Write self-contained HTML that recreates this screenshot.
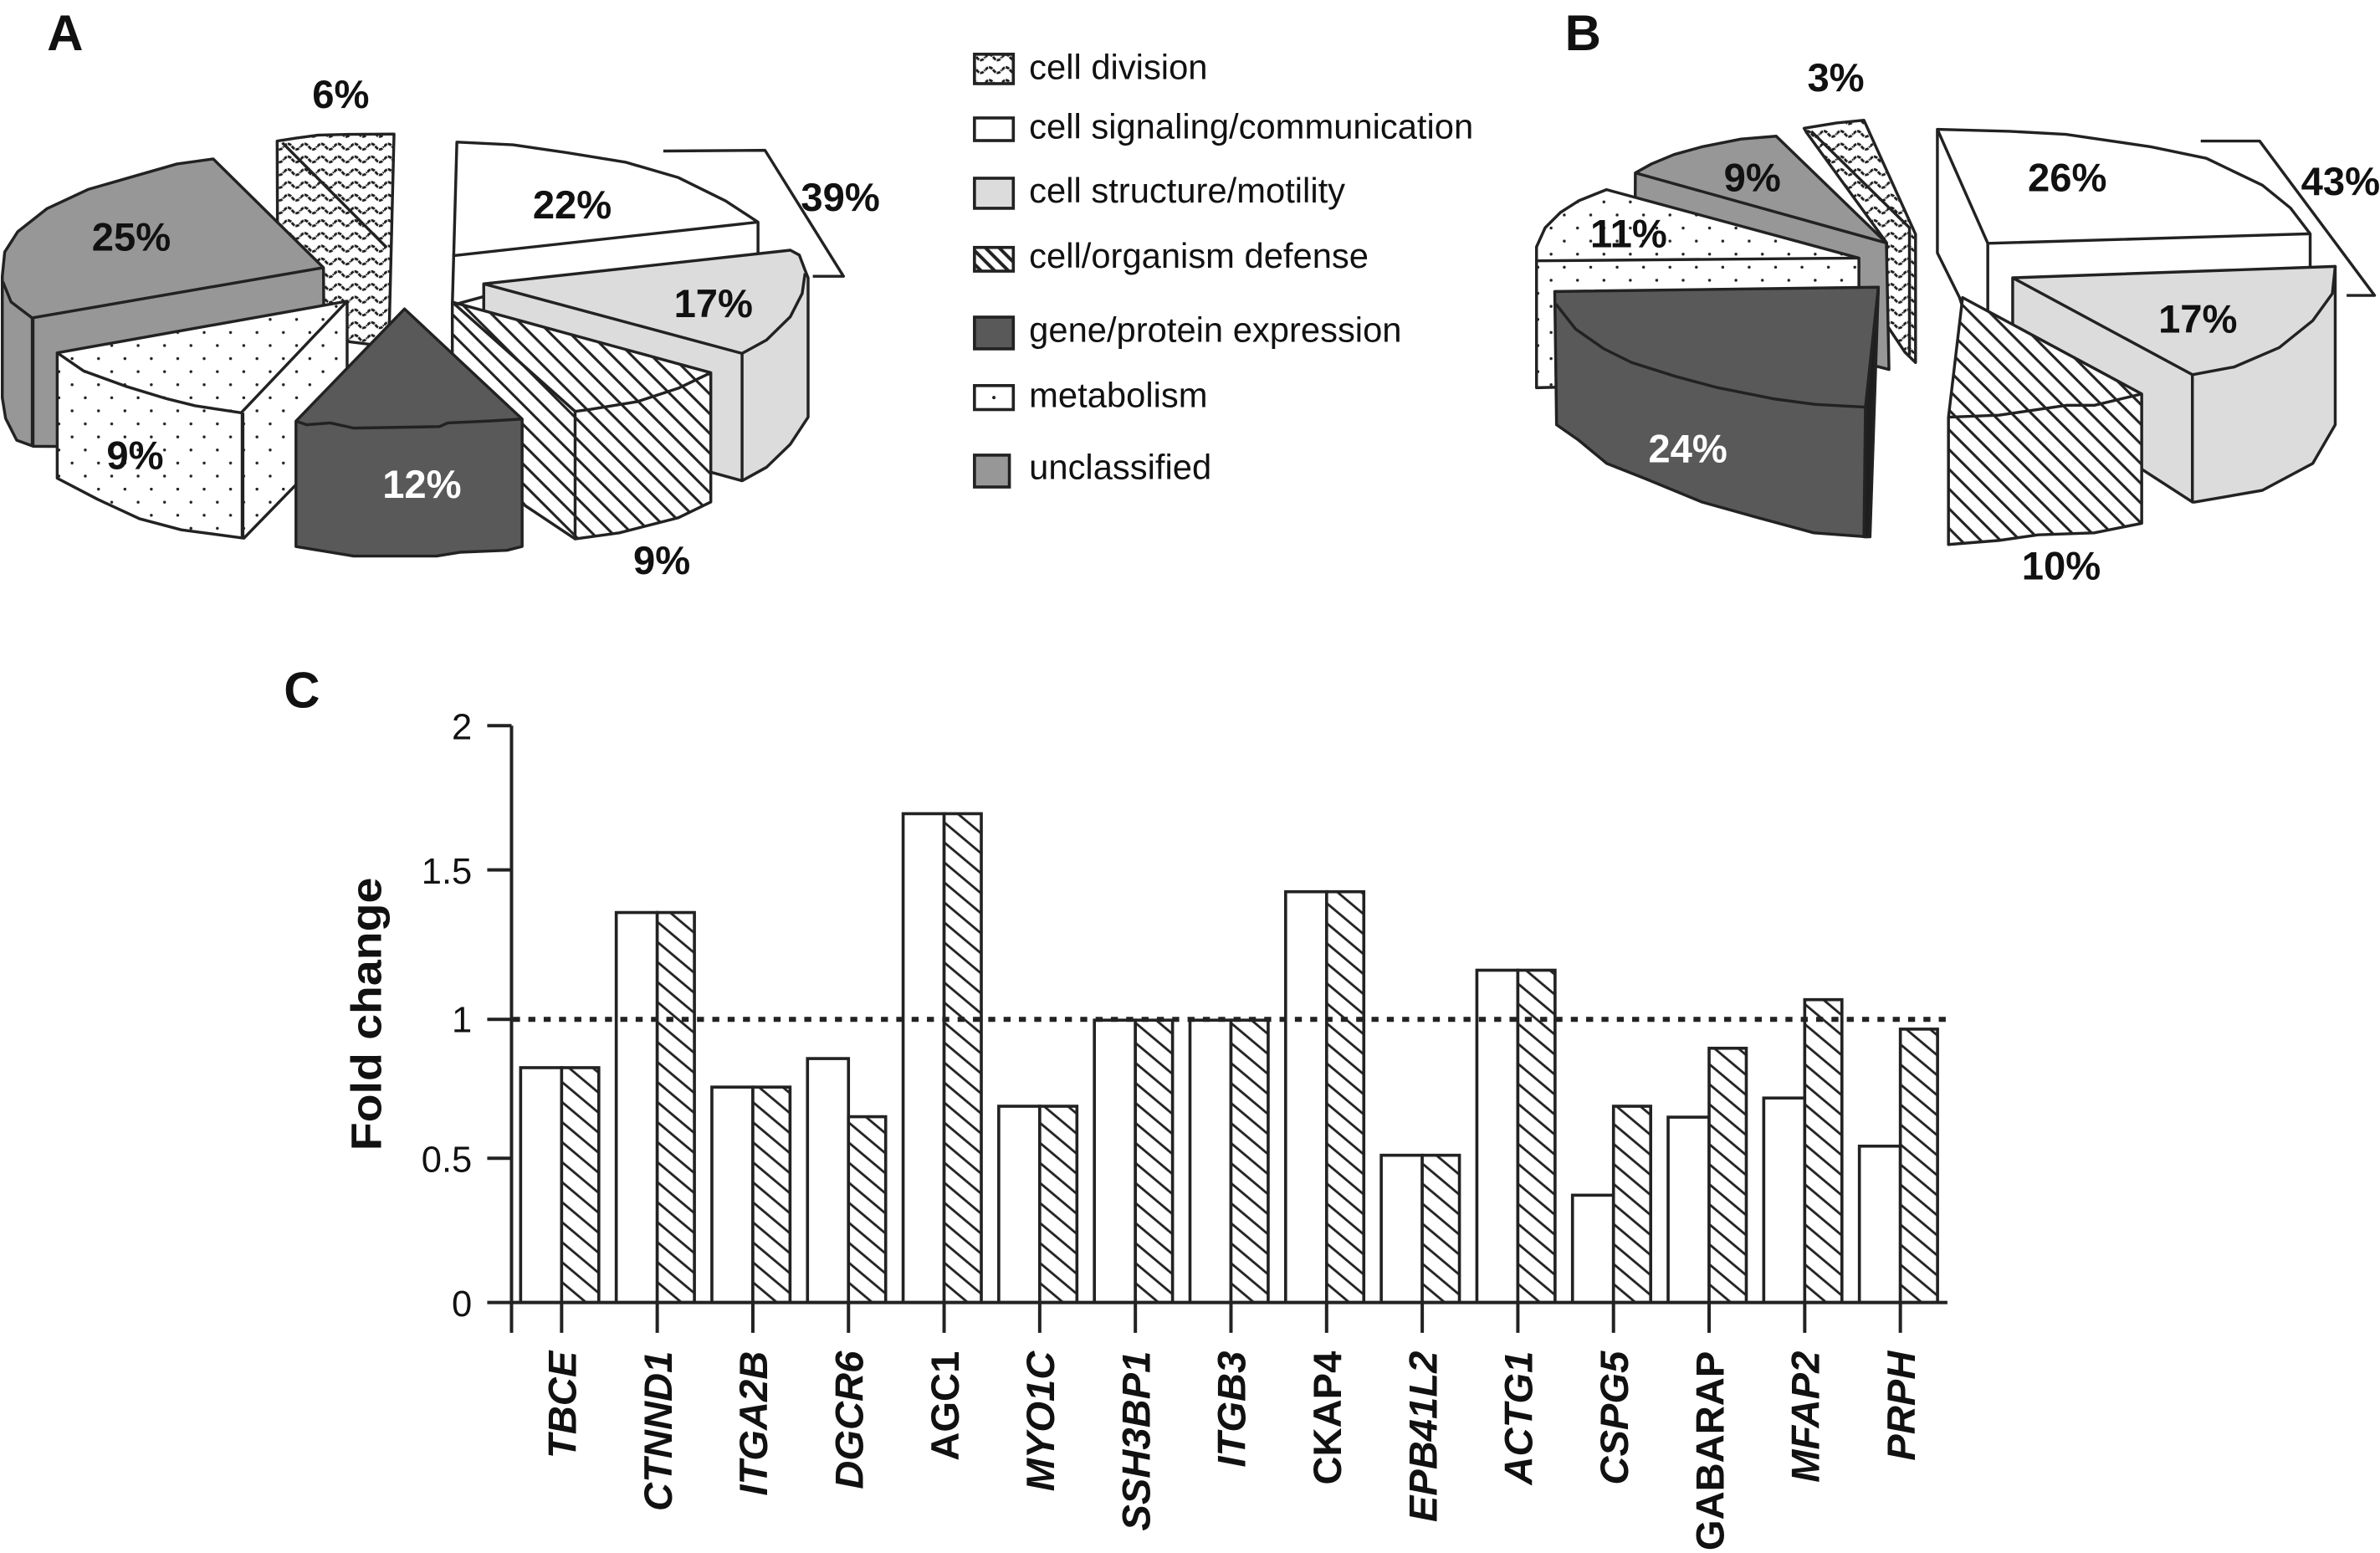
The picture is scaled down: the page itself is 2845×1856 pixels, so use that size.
<!DOCTYPE html>
<html>
<head>
<meta charset="utf-8">
<style>
html,body{margin:0;padding:0;background:#fff;}
svg{display:block;}
text{font-family:"Liberation Sans",Arial,sans-serif;fill:#111;}
.b{font-weight:bold;}
</style>
</head>
<body>
<svg width="2845" height="1856" viewBox="0 0 1568 1023" preserveAspectRatio="none" xmlns="http://www.w3.org/2000/svg">
<defs>
  <pattern id="zig" patternUnits="userSpaceOnUse" width="11" height="8.4">
    <rect width="11" height="8.4" fill="#fff"/>
    <path d="M0,4.2 Q2.75,0.5 5.5,4.2 Q8.25,7.9 11,4.2" fill="none" stroke="#1e1e1e" stroke-width="1.6" stroke-dasharray="2.6 0.6"/>
  </pattern>
  <pattern id="dots" patternUnits="userSpaceOnUse" width="17.4" height="17.2">
    <rect width="17.4" height="17.2" fill="#fff"/>
    <circle cx="4" cy="4" r="0.95" fill="#222"/>
    <circle cx="12.7" cy="12.6" r="0.95" fill="#222"/>
  </pattern>
  <pattern id="hatch" patternUnits="userSpaceOnUse" width="13" height="13">
    <rect width="13" height="13" fill="#fff"/>
    <path d="M0,0 L13,13 M-2,11 L2,15 M11,-2 L15,2" stroke="#222" stroke-width="1.7"/>
  </pattern>
  <pattern id="bhatch" patternUnits="userSpaceOnUse" width="10.1" height="10.1" patternTransform="rotate(40)">
    <rect width="10.1" height="10.1" fill="#fff"/>
    <line x1="-1" y1="5" x2="11.1" y2="5" stroke="#222" stroke-width="1.6"/>
  </pattern>
  <pattern id="lhatch" patternUnits="userSpaceOnUse" width="9" height="9">
    <rect width="9" height="9" fill="#fff"/>
    <path d="M0,0 L9,9 M-2,7 L2,11 M7,-2 L11,2" stroke="#222" stroke-width="2.2"/>
  </pattern>
</defs>

<!-- Panel letters -->
<text class="b" x="31" y="33" font-size="33">A</text>
<text class="b" x="1031" y="33" font-size="33">B</text>
<text class="b" x="187" y="466" font-size="33">C</text>

<!-- ================= PIE A ================= -->
<g stroke="#222" stroke-width="1.9" stroke-linejoin="round">
  <path d="M182.6,92.9 L195,91 L209.8,89 L230,88.5 L259.6,88.3 L256.5,213.7 L245,227 L229,225 L213,215 L183,200 Z" fill="url(#zig)"/>
  <path d="M186,94 L254.5,162.8" fill="none"/>
  <path d="M140.5,104.7 L116.6,108 L89.4,115.8 L58.3,124.7 L31,137.4 L11.7,152.6 L3.1,166 L1.5,182 L1.5,262 L3.7,275.6 L11,290 L22,294 L214,295 L213.1,176.3 Z" fill="#979797"/>
  <path d="M1.8,185.4 L7.3,198.9 L21.1,209.4 L213.1,176.3" fill="none"/>
  <path d="M21.5,209.4 L21.5,294" fill="none" stroke-width="2.4"/>
  <path d="M37.7,232.4 L228.7,198.4 L228.7,284 L194.7,319.6 L160.7,354.5 L119.4,349 L91.9,341.7 L64.3,328.9 L37.7,315 Z" fill="url(#dots)"/>
  <path d="M37.7,232.4 L55,244.3 L82.7,254.4 L110,262.7 L128.6,267.3 L158.9,271.9 L228.7,198.4" fill="none"/>
  <path d="M159.8,271.9 L159.8,354.5" fill="none" stroke-width="2.4"/>
  <path d="M301,93.6 L338,95.4 L373,100.5 L412,106.8 L447,117 L478,132.3 L499.4,146.3 L499.4,175 L320,195 L298,201 Z" fill="#fff"/>
  <path d="M298,168.5 L499.4,146.3" fill="none"/>
  <path d="M318.7,187 L520.7,164.8 L526.6,168 L530.4,178 L532.4,183 L532.4,274.8 L520.7,292.6 L505,307.8 L488.9,316.7 L318.7,270 Z" fill="#dcdcdc"/>
  <path d="M318.7,187 L488.9,232.8 L505,224 L520.7,208.6 L528.5,193.3 L530.4,180 M488.9,232.8 L488.9,316.7" fill="none"/>
  <path d="M298,199 L468.3,245.5 L468.3,330.7 L447,341 L408,351 L378.9,355 L345.9,333 L298,275 Z" fill="url(#hatch)"/>
  <path d="M298,199 L378.9,271 L388.6,269.7 L419.7,264.6 L447,255.7 L468.3,245.5 M378.9,271 L378.9,355" fill="none"/>
  <path d="M266.5,203.5 L344,276 L344,360 L334,362.5 L303,363.8 L287.6,366.3 L233,366.3 L210,362.5 L195,360 L195,277.4 Z" fill="#595959"/>
  <path d="M195,277.4 L202,279.8 L217.6,278.6 L233,282 L289.5,281 L295,278.6 L322.5,277.3 L344,276" fill="none"/>
  <path d="M437,99.5 L504,99 L555.7,182 L535.5,182" fill="none"/>
</g>
<g font-size="26" text-anchor="middle">
  <text class="b" x="224.5" y="71">6%</text>
  <text class="b" x="86.5" y="165">25%</text>
  <text class="b" x="377" y="144">22%</text>
  <text class="b" x="553.7" y="139">39%</text>
  <text class="b" x="470" y="209">17%</text>
  <text class="b" x="89" y="309">9%</text>
  <text class="b" x="278" y="328" style="fill:#fff">12%</text>
  <text class="b" x="436" y="378">9%</text>
</g>

<!-- ================= LEGEND ================= -->
<g stroke="#222" stroke-width="2">
  <rect x="642" y="35.7" width="25.6" height="19.4" fill="url(#zig)"/>
  <rect x="642" y="77.7" width="25.6" height="14.9" fill="#fff"/>
  <rect x="642" y="117.4" width="25.6" height="19.8" fill="#dcdcdc"/>
  <rect x="642" y="163" width="25.6" height="15.6" fill="url(#lhatch)"/>
  <rect x="642" y="208.9" width="25.6" height="20.9" fill="#595959"/>
  <rect x="642" y="254" width="25.6" height="15.8" fill="#fff"/>
  <rect x="642" y="299.8" width="23" height="21" fill="#979797"/>
</g>
<circle cx="654.8" cy="261.9" r="1.1" fill="#222"/>
<g font-size="23">
  <text x="678" y="52">cell division</text>
  <text x="678" y="91.3">cell signaling/communication</text>
  <text x="678" y="133.3">cell structure/motility</text>
  <text x="678" y="176.4">cell/organism defense</text>
  <text x="678" y="225.2">gene/protein expression</text>
  <text x="678" y="268.1">metabolism</text>
  <text x="678" y="315.6">unclassified</text>
</g>

<!-- ================= PIE B ================= -->
<g stroke="#222" stroke-width="1.9" stroke-linejoin="round">
  <path d="M1188.6,84.5 L1210,81 L1228,79.2 L1262,154.3 L1262,238.8 L1255,232 L1243,214 L1243,160 L1190,87 Z" fill="url(#zig)"/>
  <path d="M1193.3,86.5 L1258,150 L1258,234" fill="none"/>
  <path d="M1077.4,113.9 L1088,108 L1102.9,101.8 L1121.3,96.7 L1147,91.6 L1170.2,89.7 L1242.8,160 L1244.5,243.4 L1077,200 Z" fill="#979797"/>
  <path d="M1077.4,113.9 L1242.8,160" fill="none"/>
  <path d="M1012.3,171.8 L1012.3,162.6 L1018,150 L1028,140 L1040,132.3 L1058.4,124.9 L1224.7,170 L1224.7,250 L1012.3,255.4 Z" fill="url(#dots)"/>
  <path d="M1012.3,171.8 L1224.7,170" fill="none"/>
  <path d="M1024.3,192 L1237.5,189.2 L1230,353.6 L1195,351 L1158.2,341 L1121.3,330.7 L1084.4,315.5 L1058.6,305.3 L1040.1,290 L1025.5,279.8 Z" fill="#595959"/>
  <path d="M1229,268.2 L1237.5,189.2 L1232,353.6 L1228,353.6 Z" fill="#1e1e1e"/>
  <path d="M1025,200.2 L1038,216.7 L1056.6,229.7 L1075,238.8 L1104.1,248 L1131.7,255.4 L1168.4,262.7 L1196,266.4 L1229,268.2" fill="none"/>
  <path d="M1276.4,85.2 L1324,86.5 L1361,88.5 L1417,96.7 L1453.6,104.3 L1490.5,122 L1509,137 L1522,154 L1522,185 L1309.6,255 L1291,196 L1276.4,166.6 Z" fill="#fff"/>
  <path d="M1276.4,85.2 L1309.6,160.3 L1522,154 M1309.6,160.3 L1309.6,255" fill="none"/>
  <path d="M1326,183 L1538.5,175.5 L1538.5,279.8 L1523.7,305.3 L1490.5,323 L1446.2,330.7 L1444.4,330.7 L1326,254 Z" fill="#dcdcdc"/>
  <path d="M1326,183 L1444.4,246.8 L1472,241.7 L1501.6,229 L1523.7,211.2 L1536.6,193.4 L1538.5,175.5 M1444.4,246.8 L1444.4,330.7" fill="none"/>
  <path d="M1293,196 L1411,259.5 L1411,344.7 L1379.7,351 L1342.8,352.3 L1317,356 L1283.7,358.7 L1283.7,274.8 Z" fill="url(#hatch)"/>
  <path d="M1283.7,274.8 L1317,273.5 L1361.3,267 L1379.7,267 L1411,259.5" fill="none"/>
  <path d="M1449.9,92.9 L1488.7,92.9 L1564.4,194.6 L1546,194.6" fill="none"/>
</g>
<g font-size="26" text-anchor="middle">
  <text class="b" x="1209.5" y="60">3%</text>
  <text class="b" x="1154.5" y="126">9%</text>
  <text class="b" x="1073" y="163">11%</text>
  <text class="b" x="1362" y="126">26%</text>
  <text class="b" x="1542" y="128.5">43%</text>
  <text class="b" x="1448" y="219">17%</text>
  <text class="b" x="1112" y="304.5" style="fill:#fff">24%</text>
  <text class="b" x="1358" y="381.6">10%</text>
</g>

<!-- ================= BAR CHART C ================= -->
<g stroke="#222" stroke-width="2">
  <rect x="343" y="703.3" width="27" height="154.7" fill="#fff"/><rect x="370" y="703.3" width="24.5" height="154.7" fill="url(#bhatch)"/>
  <rect x="406" y="601.1" width="27" height="256.9" fill="#fff"/><rect x="433" y="601.1" width="24.5" height="256.9" fill="url(#bhatch)"/>
  <rect x="469" y="716.1" width="27" height="141.9" fill="#fff"/><rect x="496" y="716.1" width="24.5" height="141.9" fill="url(#bhatch)"/>
  <rect x="532" y="697.3" width="27" height="160.7" fill="#fff"/><rect x="559" y="735.6" width="24.5" height="122.4" fill="url(#bhatch)"/>
  <rect x="595" y="536" width="27" height="322" fill="#fff"/><rect x="622" y="536" width="24.5" height="322" fill="url(#bhatch)"/>
  <rect x="658" y="728.7" width="27" height="129.3" fill="#fff"/><rect x="685" y="728.7" width="24.5" height="129.3" fill="url(#bhatch)"/>
  <rect x="721" y="672" width="27" height="186" fill="#fff"/><rect x="748" y="672" width="24.5" height="186" fill="url(#bhatch)"/>
  <rect x="784" y="672" width="27" height="186" fill="#fff"/><rect x="811" y="672" width="24.5" height="186" fill="url(#bhatch)"/>
  <rect x="847" y="587.4" width="27" height="270.6" fill="#fff"/><rect x="874" y="587.4" width="24.5" height="270.6" fill="url(#bhatch)"/>
  <rect x="910" y="761" width="27" height="97" fill="#fff"/><rect x="937" y="761" width="24.5" height="97" fill="url(#bhatch)"/>
  <rect x="973" y="639.1" width="27" height="218.9" fill="#fff"/><rect x="1000" y="639.1" width="24.5" height="218.9" fill="url(#bhatch)"/>
  <rect x="1036" y="787.3" width="27" height="70.7" fill="#fff"/><rect x="1063" y="728.7" width="24.5" height="129.3" fill="url(#bhatch)"/>
  <rect x="1099" y="735.9" width="27" height="122.1" fill="#fff"/><rect x="1126" y="690.5" width="24.5" height="167.5" fill="url(#bhatch)"/>
  <rect x="1162" y="723.3" width="27" height="134.7" fill="#fff"/><rect x="1189" y="658.5" width="24.5" height="199.5" fill="url(#bhatch)"/>
  <rect x="1225" y="755" width="27" height="103" fill="#fff"/><rect x="1252" y="677.9" width="24.5" height="180.1" fill="url(#bhatch)"/>
</g>
<line x1="338" y1="671.5" x2="1282" y2="671.5" stroke="#222" stroke-width="3.3" stroke-dasharray="4.6 5.5"/>
<g stroke="#222" stroke-width="2.2" fill="none">
  <path d="M337,478 L337,878"/>
  <path d="M321,858 L1283,858"/>
  <path d="M321,478 L337,478 M321,573 L337,573 M321,671.5 L337,671.5 M321,763 L337,763"/>
  <path d="M370,858 L370,878 M433,858 L433,878 M496,858 L496,878 M559,858 L559,878 M622,858 L622,878 M685,858 L685,878 M748,858 L748,878 M811,858 L811,878 M874,858 L874,878 M937,858 L937,878 M1000,858 L1000,878 M1063,858 L1063,878 M1126,858 L1126,878 M1189,858 L1189,878 M1252,858 L1252,878"/>
</g>
<g font-size="24" text-anchor="end">
  <text x="311" y="487">2</text>
  <text x="311" y="582">1.5</text>
  <text x="311" y="680">1</text>
  <text x="311" y="772">0.5</text>
  <text x="311" y="867">0</text>
</g>
<text class="b" font-size="28" text-anchor="middle" textLength="180" lengthAdjust="spacingAndGlyphs" transform="translate(251,668) rotate(-90)">Fold change</text>
<g font-size="26" font-weight="bold" text-anchor="end">
  <text class="b" font-style="italic" transform="translate(379.5,890) rotate(-90)">TBCE</text>
  <text class="b" font-style="italic" transform="translate(442.5,890) rotate(-90)">CTNND1</text>
  <text class="b" font-style="italic" transform="translate(505.5,890) rotate(-90)">ITGA2B</text>
  <text class="b" font-style="italic" transform="translate(568.5,890) rotate(-90)">DGCR6</text>
  <text class="b" transform="translate(631.5,890) rotate(-90)">AGC1</text>
  <text class="b" font-style="italic" transform="translate(694.5,890) rotate(-90)">MYO1C</text>
  <text class="b" font-style="italic" transform="translate(757.5,890) rotate(-90)">SSH3BP1</text>
  <text class="b" font-style="italic" transform="translate(820.5,890) rotate(-90)">ITGB3</text>
  <text class="b" transform="translate(883.5,890) rotate(-90)">CKAP4</text>
  <text class="b" font-style="italic" transform="translate(946.5,890) rotate(-90)">EPB41L2</text>
  <text class="b" font-style="italic" transform="translate(1009.5,890) rotate(-90)">ACTG1</text>
  <text class="b" font-style="italic" transform="translate(1072.5,890) rotate(-90)">CSPG5</text>
  <text class="b" transform="translate(1135.5,890) rotate(-90)">GABARAP</text>
  <text class="b" font-style="italic" transform="translate(1198.5,890) rotate(-90)">MFAP2</text>
  <text class="b" font-style="italic" transform="translate(1261.5,890) rotate(-90)">PRPH</text>
</g>
</svg>
</body>
</html>
